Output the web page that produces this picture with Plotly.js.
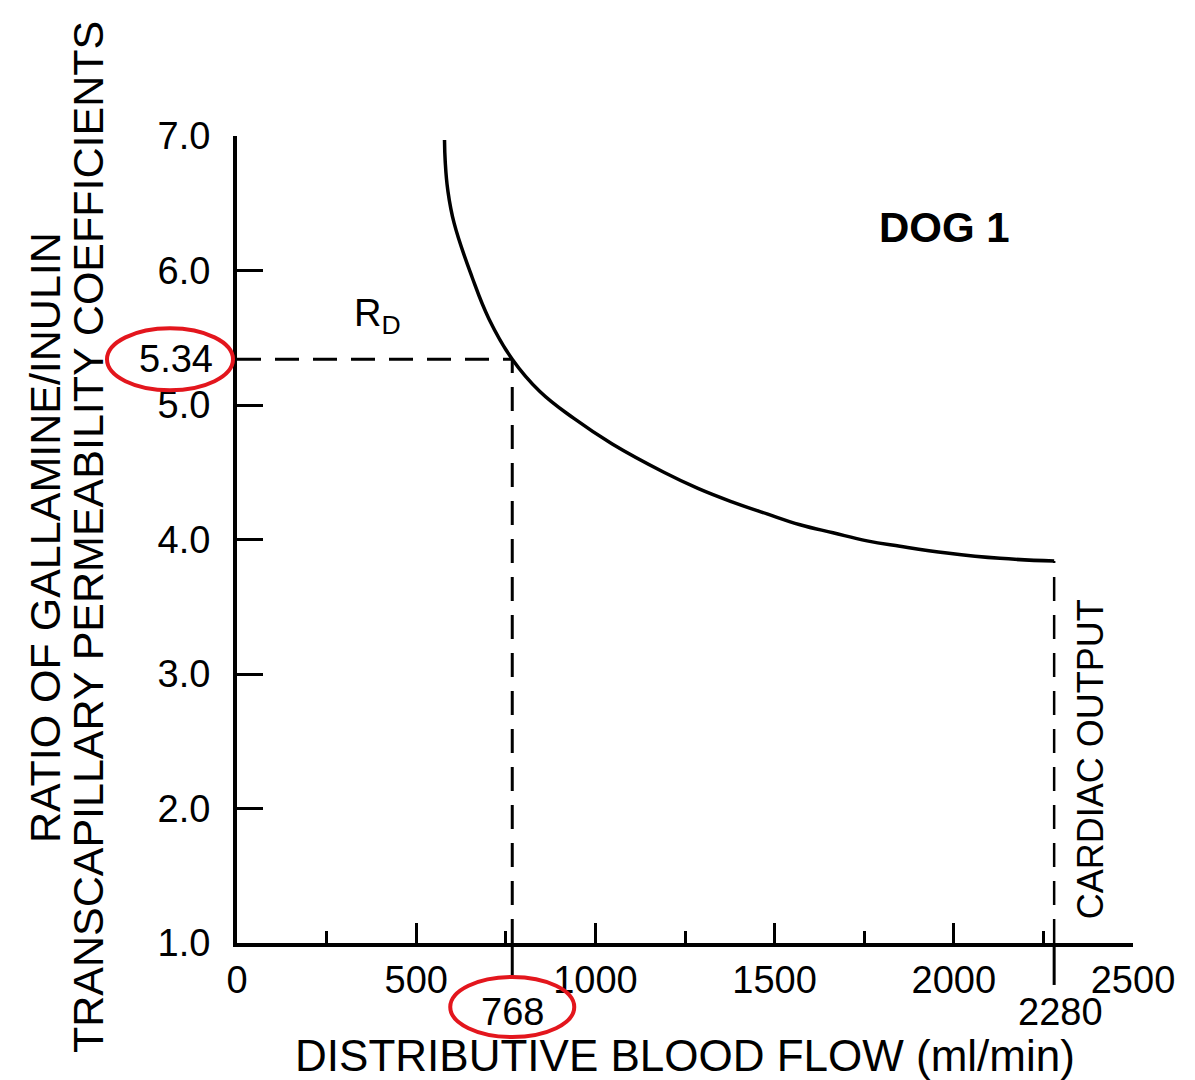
<!DOCTYPE html>
<html>
<head>
<meta charset="utf-8">
<script src="https://cdn.plot.ly/plotly-3.0.1.min.js"></script>
<style>
  html, body { margin: 0; padding: 0; background: #fff; }
  #chart { width: 1195px; height: 1080px; }
</style>
</head>
<body>
<div id="chart"></div>
<script>
// Distributive blood flow (ml/min) vs ratio of gallamine/inulin permeability coefficients
const flow  = [579, 581, 588, 606, 656, 703, 768, 845, 940, 1047, 1191, 1286, 1381, 1479, 1571, 1663, 1758, 1850, 1981, 2129, 2280];
const ratio = [6.97, 6.81, 6.60, 6.35, 5.95, 5.64, 5.34, 5.10, 4.90, 4.71, 4.50, 4.38, 4.28, 4.19, 4.11, 4.05, 3.99, 3.95, 3.90, 3.86, 3.84];

const rdFlow = 768;          // distributive flow at R_D
const rdRatio = 5.34;        // R_D
const cardiacOutput = 2280;  // ml/min
const cardiacRatio = 3.84;   // curve value at cardiac output

const xTickVals = [0, 500, 1000, 1500, 2000, 2500];
const xTickText = ["0", "500", "1000", "1500", "2000", "2500"];
const xMinorVals = [250, 750, 1250, 1750, 2250];
const yTickVals = [1, 2, 3, 4, 5, 6, 7];
const yTickText = ["1.0", "2.0", "3.0", "4.0", "5.0", "6.0", "7.0"];

const FONT = "Liberation Sans, Arial, Helvetica, sans-serif";
const dashStyle = "24px,14px";

const traces = [
  { x: flow, y: ratio, mode: "lines", line: { color: "#000", width: 3.5, shape: "spline", smoothing: 1.2 },
    cliponaxis: false, hoverinfo: "x+y", showlegend: false },
  { x: [0, rdFlow], y: [rdRatio, rdRatio], mode: "lines",
    line: { color: "#000", width: 3, dash: dashStyle }, showlegend: false, hoverinfo: "skip" },
  { x: [rdFlow, rdFlow], y: [1, rdRatio], mode: "lines",
    line: { color: "#000", width: 3, dash: dashStyle }, showlegend: false, hoverinfo: "skip" },
  { x: [cardiacOutput, cardiacOutput], y: [1, cardiacRatio], mode: "lines",
    line: { color: "#000", width: 2.5, dash: dashStyle }, showlegend: false, hoverinfo: "skip" }
];

const layout = {
  width: 1195, height: 1080,
  margin: { l: 237, r: 62, t: 136, b: 137 },
  paper_bgcolor: "#fff", plot_bgcolor: "#fff",
  font: { family: FONT, color: "#000", size: 38 },
  showlegend: false,
  xaxis: {
    range: [0, 2500], showgrid: false, zeroline: false,
    showline: true, linecolor: "#000", linewidth: 4,
    tickmode: "array", tickvals: xTickVals, ticktext: xTickText,
    ticks: "inside", ticklen: 20, tickwidth: 3, tickcolor: "#000",
    ticklabelstandoff: 0,
    tickfont: { family: FONT, size: 38, color: "#000" },
    minor: { tickmode: "array", tickvals: xMinorVals, ticks: "inside", ticklen: 12, tickwidth: 3, tickcolor: "#000", showgrid: false },
    title: { text: "DISTRIBUTIVE BLOOD FLOW (ml/min)", font: { family: FONT, size: 44, color: "#000" } },
    automargin: false
  },
  yaxis: {
    range: [1, 7], showgrid: false, zeroline: false,
    showline: true, linecolor: "#000", linewidth: 4,
    tickmode: "array", tickvals: yTickVals, ticktext: yTickText,
    ticks: "inside", ticklen: 26, tickwidth: 3, tickcolor: "#000",
    ticklabelstandoff: 15,
    tickfont: { family: FONT, size: 38, color: "#000" },
    automargin: false
  },
  annotations: [
    { xref: "paper", yref: "paper", x: -0.2143, y: 0.503, xanchor: "center", yanchor: "middle",
      text: "RATIO OF GALLAMINE/INULIN", textangle: -90, showarrow: false,
      font: { family: FONT, size: 43, color: "#000" } },
    { xref: "paper", yref: "paper", x: -0.1663, y: 0.503, xanchor: "center", yanchor: "middle",
      text: "TRANSCAPILLARY PERMEABILITY COEFFICIENTS", textangle: -90, showarrow: false,
      font: { family: FONT, size: 43, color: "#000" } },
    { xref: "paper", yref: "y", x: 0, y: rdRatio, xanchor: "right", yanchor: "middle", xshift: -22,
      text: String(rdRatio), showarrow: false, font: { family: FONT, size: 38, color: "#000" } },
    { xref: "x", yref: "paper", x: rdFlow, y: 0, xanchor: "center", yanchor: "top", yshift: -46,
      text: String(rdFlow), showarrow: false, font: { family: FONT, size: 38, color: "#000" } },
    { xref: "x", yref: "paper", x: cardiacOutput, y: 0, xanchor: "center", yanchor: "top", yshift: -46, xshift: 6,
      text: String(cardiacOutput), showarrow: false, font: { family: FONT, size: 38, color: "#000" } },
    { xref: "x", yref: "paper", x: cardiacOutput, y: 0, xanchor: "center", yanchor: "bottom", xshift: 36, yshift: 22,
      text: "CARDIAC OUTPUT", textangle: -90, showarrow: false, font: { family: FONT, size: 36, color: "#000" } },
    { xref: "x", yref: "y", x: 1975, y: 6.32, xanchor: "center", yanchor: "middle",
      text: "<b>DOG 1</b>", showarrow: false, font: { family: FONT, size: 42, color: "#000" } },
    { xref: "x", yref: "y", x: 393, y: 5.66, xanchor: "center", yanchor: "middle",
      text: "R<sub>D</sub>", showarrow: false, font: { family: FONT, size: 38, color: "#000" } }
  ],
  shapes: [
    // solid marks below the axis at R_D flow and at cardiac output
    { type: "line", xref: "x", yref: "paper", x0: rdFlow, x1: rdFlow, y0: 0, y1: -0.04,
      line: { color: "#000", width: 3 } },
    { type: "line", xref: "x", yref: "paper", x0: cardiacOutput, x1: cardiacOutput, y0: 0, y1: -0.052,
      line: { color: "#000", width: 3 } },
    // red highlight ellipses
    { type: "circle", xref: "paper", yref: "y", xsizemode: "pixel", ysizemode: "pixel",
      xanchor: 0, yanchor: rdRatio, x0: -130, x1: -4, y0: -31, y1: 31,
      line: { color: "#e3161d", width: 4 }, fillcolor: "rgba(0,0,0,0)" },
    { type: "circle", xref: "x", yref: "paper", xsizemode: "pixel", ysizemode: "pixel",
      xanchor: rdFlow, yanchor: 0, x0: -62, x1: 62, y0: -94, y1: -34,
      line: { color: "#e3161d", width: 4 }, fillcolor: "rgba(0,0,0,0)" }
  ]
};

Plotly.newPlot("chart", traces, layout, { displayModeBar: false, staticPlot: true });
</script>
</body>
</html>
